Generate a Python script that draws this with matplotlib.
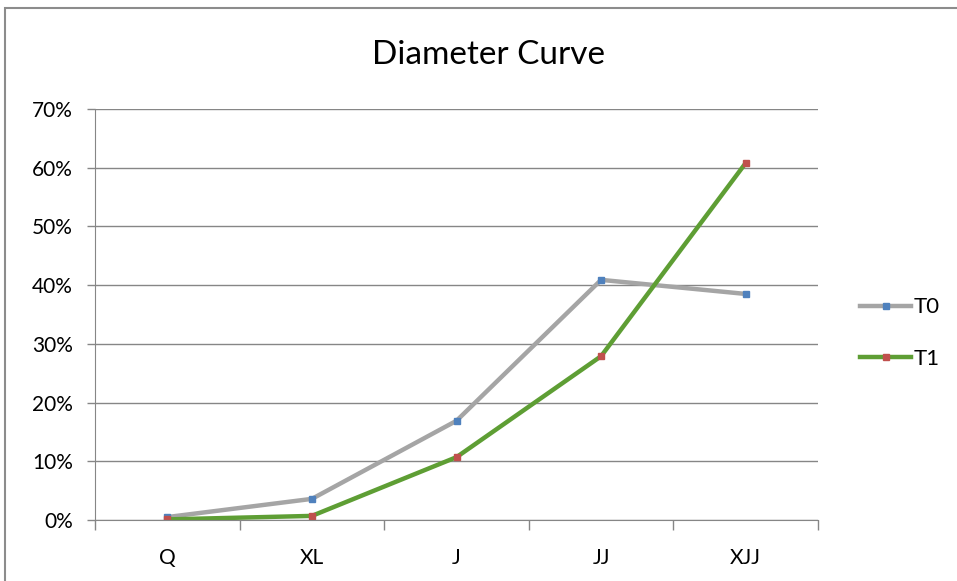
import numpy as np
import matplotlib.pyplot as plt
from matplotlib.patches import Rectangle
from matplotlib.ticker import PercentFormatter, FixedLocator

# donnees
categories = ['Q', 'XL', 'J', 'JJ', 'XJJ']
t0 = [0.5, 3.6, 16.9, 40.9, 38.5]
t1 = [0.1, 0.7, 10.7, 27.9, 60.8]

plt.rcParams['font.family'] = ['Lato', 'DejaVu Sans']

fig = plt.figure(figsize=(9.57, 5.81), dpi=100)
ax = fig.add_axes([95/957, 61/581, 723/957, 411/581])

# cadre du graphique
fig.patches.append(Rectangle((5/957, -0.1), 1.1, (581-8)/581 + 0.1, transform=fig.transFigure,
                             fill=False, edgecolor='#8c8c8c', linewidth=1.5))

x = np.arange(len(categories))
ax.plot(x, t0, color='#A5A5A5', linewidth=3.2, marker='s', markersize=5,
        markerfacecolor='#4F81BD', markeredgecolor='#4F81BD', label='T0')
ax.plot(x, t1, color='#5E9E34', linewidth=3.2, marker='s', markersize=5,
        markerfacecolor='#C0504D', markeredgecolor='#C0504D', label='T1')

ax.set_xlim(-0.5, 4.5)
ax.set_ylim(0, 70)
ax.set_yticks(np.arange(0, 71, 10))
ax.yaxis.set_major_formatter(PercentFormatter(decimals=0))
ax.set_xticks(x)
ax.set_xticklabels(categories)
ax.xaxis.set_minor_locator(FixedLocator(np.arange(-0.5, 5, 1)))
ax.tick_params(axis='x', which='major', length=0, pad=20, labelsize=15)
ax.tick_params(axis='x', which='minor', length=7, color='#868686', width=1)
ax.tick_params(axis='y', length=6, color='#868686', width=1, labelsize=15, pad=10)

ax.grid(axis='y', color='#868686', linewidth=1)
ax.set_axisbelow(True)
for s in ['top', 'right']:
    ax.spines[s].set_visible(False)
ax.spines['left'].set_color('#868686')
ax.spines['bottom'].set_color('#868686')

fig.text(488/957, 1 - 55/581, 'Diameter Curve', ha='center', va='center', fontsize=24)

leg = fig.legend(loc='center left', bbox_to_anchor=(840/957, 1 - 333/581), frameon=False,
                 fontsize=16, handlelength=2.3, labelspacing=1.4, handletextpad=0.1)

fig.savefig('out.png', dpi=100)
